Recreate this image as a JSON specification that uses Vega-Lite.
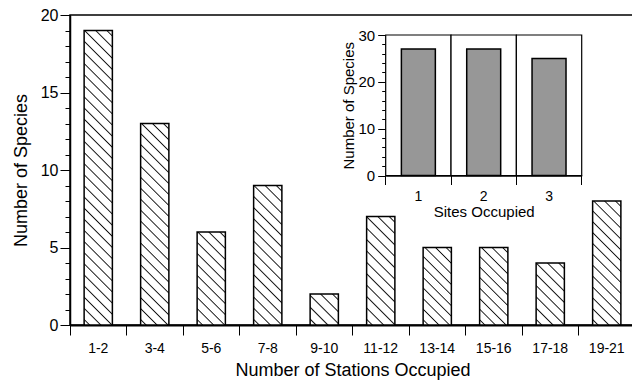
{
"$schema": "https://vega.github.io/schema/vega-lite/v6.json",
"width": 565,
"height": 310,
"autosize": "none",
"padding": {"left": 70, "top": 15, "right": 0, "bottom": 59},
"background": "white",
"config": {
  "font": "Liberation Sans",
  "view": {"stroke": "black", "strokeWidth": 1.5},
  "axis": {"grid": false, "domainColor": "black", "tickColor": "black", "labelColor": "black", "titleColor": "black", "titleFontWeight": "normal", "labelFont": "Liberation Sans", "titleFont": "Liberation Sans", "tickWidth": 1}
},
"datasets": {
  "inset": [
    {"site": "1", "count": 27},
    {"site": "2", "count": 27},
    {"site": "3", "count": 25}
  ]
},
"resolve": {"scale": {"x": "independent", "y": "independent"}},
"layer": [
  {
    "data": {"values": [
      {"stations": "1-2", "count": 19},
      {"stations": "3-4", "count": 13},
      {"stations": "5-6", "count": 6},
      {"stations": "7-8", "count": 9},
      {"stations": "9-10", "count": 2},
      {"stations": "11-12", "count": 7},
      {"stations": "13-14", "count": 5},
      {"stations": "15-16", "count": 5},
      {"stations": "17-18", "count": 4},
      {"stations": "19-21", "count": 8}
    ]},
    "mark": {"type": "bar", "width": {"band": 0.5}, "stroke": "black", "strokeWidth": 1.5},
    "encoding": {
      "x": {"field": "stations", "type": "nominal", "sort": null,
        "scale": {"paddingInner": 0, "paddingOuter": 0},
        "axis": {"title": "Number of Stations Occupied", "labelAngle": 0, "bandPosition": 1, "tickExtra": true, "tickSize": 10, "labelPadding": 6, "titlePadding": 6, "labelFontSize": 14, "titleFontSize": 18, "domainWidth": 2}},
      "y": {"field": "count", "type": "quantitative",
        "scale": {"domain": [0, 20], "nice": false},
        "axis": {"title": "Number of Species", "values": [0,1,2,3,4,5,6,7,8,9,10,11,12,13,14,15,16,17,18,19,20],
          "labelExpr": "datum.value % 5 === 0 ? datum.label : ''",
          "tickSize": {"condition": {"test": "datum.value % 5 === 0", "value": 10}, "value": 5},
          "labelPadding": 2, "labelFontSize": 16, "titleFontSize": 18, "titlePadding": 10, "domainWidth": 1.5}},
      "fill": {"condition": [
        {"test": "datum.count === 19", "value": {"gradient": "linear", "x1": 1, "y1": 0, "x2": 0.8958, "y2": 1.0859, "stops": [
          {"offset":0.0131,"color":"#fff"},{"offset":0.0172,"color":"#111"},{"offset":0.0214,"color":"#fff"},
          {"offset":0.0476,"color":"#fff"},{"offset":0.0517,"color":"#111"},{"offset":0.0559,"color":"#fff"},
          {"offset":0.0821,"color":"#fff"},{"offset":0.0862,"color":"#111"},{"offset":0.0903,"color":"#fff"},
          {"offset":0.1166,"color":"#fff"},{"offset":0.1207,"color":"#111"},{"offset":0.1248,"color":"#fff"},
          {"offset":0.1510,"color":"#fff"},{"offset":0.1552,"color":"#111"},{"offset":0.1593,"color":"#fff"},
          {"offset":0.1855,"color":"#fff"},{"offset":0.1897,"color":"#111"},{"offset":0.1938,"color":"#fff"},
          {"offset":0.2200,"color":"#fff"},{"offset":0.2241,"color":"#111"},{"offset":0.2283,"color":"#fff"},
          {"offset":0.2545,"color":"#fff"},{"offset":0.2586,"color":"#111"},{"offset":0.2628,"color":"#fff"},
          {"offset":0.2890,"color":"#fff"},{"offset":0.2931,"color":"#111"},{"offset":0.2972,"color":"#fff"},
          {"offset":0.3234,"color":"#fff"},{"offset":0.3276,"color":"#111"},{"offset":0.3317,"color":"#fff"},
          {"offset":0.3579,"color":"#fff"},{"offset":0.3621,"color":"#111"},{"offset":0.3662,"color":"#fff"},
          {"offset":0.3924,"color":"#fff"},{"offset":0.3966,"color":"#111"},{"offset":0.4007,"color":"#fff"},
          {"offset":0.4269,"color":"#fff"},{"offset":0.4310,"color":"#111"},{"offset":0.4352,"color":"#fff"},
          {"offset":0.4614,"color":"#fff"},{"offset":0.4655,"color":"#111"},{"offset":0.4697,"color":"#fff"},
          {"offset":0.4959,"color":"#fff"},{"offset":0.5000,"color":"#111"},{"offset":0.5041,"color":"#fff"},
          {"offset":0.5303,"color":"#fff"},{"offset":0.5345,"color":"#111"},{"offset":0.5386,"color":"#fff"},
          {"offset":0.5648,"color":"#fff"},{"offset":0.5690,"color":"#111"},{"offset":0.5731,"color":"#fff"},
          {"offset":0.5993,"color":"#fff"},{"offset":0.6034,"color":"#111"},{"offset":0.6076,"color":"#fff"},
          {"offset":0.6338,"color":"#fff"},{"offset":0.6379,"color":"#111"},{"offset":0.6421,"color":"#fff"},
          {"offset":0.6683,"color":"#fff"},{"offset":0.6724,"color":"#111"},{"offset":0.6766,"color":"#fff"},
          {"offset":0.7028,"color":"#fff"},{"offset":0.7069,"color":"#111"},{"offset":0.7110,"color":"#fff"},
          {"offset":0.7372,"color":"#fff"},{"offset":0.7414,"color":"#111"},{"offset":0.7455,"color":"#fff"},
          {"offset":0.7717,"color":"#fff"},{"offset":0.7759,"color":"#111"},{"offset":0.7800,"color":"#fff"},
          {"offset":0.8062,"color":"#fff"},{"offset":0.8103,"color":"#111"},{"offset":0.8145,"color":"#fff"},
          {"offset":0.8407,"color":"#fff"},{"offset":0.8448,"color":"#111"},{"offset":0.8490,"color":"#fff"},
          {"offset":0.8752,"color":"#fff"},{"offset":0.8793,"color":"#111"},{"offset":0.8834,"color":"#fff"},
          {"offset":0.9097,"color":"#fff"},{"offset":0.9138,"color":"#111"},{"offset":0.9179,"color":"#fff"},
          {"offset":0.9441,"color":"#fff"},{"offset":0.9483,"color":"#111"},{"offset":0.9524,"color":"#fff"},
          {"offset":0.9786,"color":"#fff"},{"offset":0.9828,"color":"#111"},{"offset":0.9869,"color":"#fff"}
        ]}},
        {"test": "datum.count === 13", "value": {"gradient": "linear", "x1": 1, "y1": 0, "x2": 0.8432, "y2": 1.1182, "stops": [
          {"offset":0.0181,"color":"#fff"},{"offset":0.0238,"color":"#111"},{"offset":0.0295,"color":"#fff"},
          {"offset":0.0657,"color":"#fff"},{"offset":0.0714,"color":"#111"},{"offset":0.0771,"color":"#fff"},
          {"offset":0.1133,"color":"#fff"},{"offset":0.1190,"color":"#111"},{"offset":0.1248,"color":"#fff"},
          {"offset":0.1610,"color":"#fff"},{"offset":0.1667,"color":"#111"},{"offset":0.1724,"color":"#fff"},
          {"offset":0.2086,"color":"#fff"},{"offset":0.2143,"color":"#111"},{"offset":0.2200,"color":"#fff"},
          {"offset":0.2562,"color":"#fff"},{"offset":0.2619,"color":"#111"},{"offset":0.2676,"color":"#fff"},
          {"offset":0.3038,"color":"#fff"},{"offset":0.3095,"color":"#111"},{"offset":0.3152,"color":"#fff"},
          {"offset":0.3514,"color":"#fff"},{"offset":0.3571,"color":"#111"},{"offset":0.3629,"color":"#fff"},
          {"offset":0.3990,"color":"#fff"},{"offset":0.4048,"color":"#111"},{"offset":0.4105,"color":"#fff"},
          {"offset":0.4467,"color":"#fff"},{"offset":0.4524,"color":"#111"},{"offset":0.4581,"color":"#fff"},
          {"offset":0.4943,"color":"#fff"},{"offset":0.5000,"color":"#111"},{"offset":0.5057,"color":"#fff"},
          {"offset":0.5419,"color":"#fff"},{"offset":0.5476,"color":"#111"},{"offset":0.5533,"color":"#fff"},
          {"offset":0.5895,"color":"#fff"},{"offset":0.5952,"color":"#111"},{"offset":0.6010,"color":"#fff"},
          {"offset":0.6371,"color":"#fff"},{"offset":0.6429,"color":"#111"},{"offset":0.6486,"color":"#fff"},
          {"offset":0.6848,"color":"#fff"},{"offset":0.6905,"color":"#111"},{"offset":0.6962,"color":"#fff"},
          {"offset":0.7324,"color":"#fff"},{"offset":0.7381,"color":"#111"},{"offset":0.7438,"color":"#fff"},
          {"offset":0.7800,"color":"#fff"},{"offset":0.7857,"color":"#111"},{"offset":0.7914,"color":"#fff"},
          {"offset":0.8276,"color":"#fff"},{"offset":0.8333,"color":"#111"},{"offset":0.8390,"color":"#fff"},
          {"offset":0.8752,"color":"#fff"},{"offset":0.8810,"color":"#111"},{"offset":0.8867,"color":"#fff"},
          {"offset":0.9229,"color":"#fff"},{"offset":0.9286,"color":"#111"},{"offset":0.9343,"color":"#fff"},
          {"offset":0.9705,"color":"#fff"},{"offset":0.9762,"color":"#111"},{"offset":0.9819,"color":"#fff"}
        ]}},
        {"test": "datum.count === 9", "value": {"gradient": "linear", "x1": 1, "y1": 0, "x2": 0.7661, "y2": 1.1551, "stops": [
          {"offset":0.0253,"color":"#fff"},{"offset":0.0333,"color":"#111"},{"offset":0.0413,"color":"#fff"},
          {"offset":0.0920,"color":"#fff"},{"offset":0.1000,"color":"#111"},{"offset":0.1080,"color":"#fff"},
          {"offset":0.1587,"color":"#fff"},{"offset":0.1667,"color":"#111"},{"offset":0.1747,"color":"#fff"},
          {"offset":0.2253,"color":"#fff"},{"offset":0.2333,"color":"#111"},{"offset":0.2413,"color":"#fff"},
          {"offset":0.2920,"color":"#fff"},{"offset":0.3000,"color":"#111"},{"offset":0.3080,"color":"#fff"},
          {"offset":0.3587,"color":"#fff"},{"offset":0.3667,"color":"#111"},{"offset":0.3747,"color":"#fff"},
          {"offset":0.4253,"color":"#fff"},{"offset":0.4333,"color":"#111"},{"offset":0.4413,"color":"#fff"},
          {"offset":0.4920,"color":"#fff"},{"offset":0.5000,"color":"#111"},{"offset":0.5080,"color":"#fff"},
          {"offset":0.5587,"color":"#fff"},{"offset":0.5667,"color":"#111"},{"offset":0.5747,"color":"#fff"},
          {"offset":0.6253,"color":"#fff"},{"offset":0.6333,"color":"#111"},{"offset":0.6413,"color":"#fff"},
          {"offset":0.6920,"color":"#fff"},{"offset":0.7000,"color":"#111"},{"offset":0.7080,"color":"#fff"},
          {"offset":0.7587,"color":"#fff"},{"offset":0.7667,"color":"#111"},{"offset":0.7747,"color":"#fff"},
          {"offset":0.8253,"color":"#fff"},{"offset":0.8333,"color":"#111"},{"offset":0.8413,"color":"#fff"},
          {"offset":0.8920,"color":"#fff"},{"offset":0.9000,"color":"#111"},{"offset":0.9080,"color":"#fff"},
          {"offset":0.9587,"color":"#fff"},{"offset":0.9667,"color":"#111"},{"offset":0.9747,"color":"#fff"}
        ]}},
        {"test": "datum.count === 8", "value": {"gradient": "linear", "x1": 1, "y1": 0, "x2": 0.7341, "y2": 1.1672, "stops": [
          {"offset":0.0271,"color":"#fff"},{"offset":0.0357,"color":"#111"},{"offset":0.0443,"color":"#fff"},
          {"offset":0.0986,"color":"#fff"},{"offset":0.1071,"color":"#111"},{"offset":0.1157,"color":"#fff"},
          {"offset":0.1700,"color":"#fff"},{"offset":0.1786,"color":"#111"},{"offset":0.1871,"color":"#fff"},
          {"offset":0.2414,"color":"#fff"},{"offset":0.2500,"color":"#111"},{"offset":0.2586,"color":"#fff"},
          {"offset":0.3129,"color":"#fff"},{"offset":0.3214,"color":"#111"},{"offset":0.3300,"color":"#fff"},
          {"offset":0.3843,"color":"#fff"},{"offset":0.3929,"color":"#111"},{"offset":0.4014,"color":"#fff"},
          {"offset":0.4557,"color":"#fff"},{"offset":0.4643,"color":"#111"},{"offset":0.4729,"color":"#fff"},
          {"offset":0.5271,"color":"#fff"},{"offset":0.5357,"color":"#111"},{"offset":0.5443,"color":"#fff"},
          {"offset":0.5986,"color":"#fff"},{"offset":0.6071,"color":"#111"},{"offset":0.6157,"color":"#fff"},
          {"offset":0.6700,"color":"#fff"},{"offset":0.6786,"color":"#111"},{"offset":0.6871,"color":"#fff"},
          {"offset":0.7414,"color":"#fff"},{"offset":0.7500,"color":"#111"},{"offset":0.7586,"color":"#fff"},
          {"offset":0.8129,"color":"#fff"},{"offset":0.8214,"color":"#111"},{"offset":0.8300,"color":"#fff"},
          {"offset":0.8843,"color":"#fff"},{"offset":0.8929,"color":"#111"},{"offset":0.9014,"color":"#fff"},
          {"offset":0.9557,"color":"#fff"},{"offset":0.9643,"color":"#111"},{"offset":0.9729,"color":"#fff"}
        ]}},
        {"test": "datum.count === 7", "value": {"gradient": "linear", "x1": 1, "y1": 0, "x2": 0.6927, "y2": 1.1804, "stops": [
          {"offset":0.0317,"color":"#fff"},{"offset":0.0417,"color":"#111"},{"offset":0.0517,"color":"#fff"},
          {"offset":0.1150,"color":"#fff"},{"offset":0.1250,"color":"#111"},{"offset":0.1350,"color":"#fff"},
          {"offset":0.1983,"color":"#fff"},{"offset":0.2083,"color":"#111"},{"offset":0.2183,"color":"#fff"},
          {"offset":0.2817,"color":"#fff"},{"offset":0.2917,"color":"#111"},{"offset":0.3017,"color":"#fff"},
          {"offset":0.3650,"color":"#fff"},{"offset":0.3750,"color":"#111"},{"offset":0.3850,"color":"#fff"},
          {"offset":0.4483,"color":"#fff"},{"offset":0.4583,"color":"#111"},{"offset":0.4683,"color":"#fff"},
          {"offset":0.5317,"color":"#fff"},{"offset":0.5417,"color":"#111"},{"offset":0.5517,"color":"#fff"},
          {"offset":0.6150,"color":"#fff"},{"offset":0.6250,"color":"#111"},{"offset":0.6350,"color":"#fff"},
          {"offset":0.6983,"color":"#fff"},{"offset":0.7083,"color":"#111"},{"offset":0.7183,"color":"#fff"},
          {"offset":0.7817,"color":"#fff"},{"offset":0.7917,"color":"#111"},{"offset":0.8017,"color":"#fff"},
          {"offset":0.8650,"color":"#fff"},{"offset":0.8750,"color":"#111"},{"offset":0.8850,"color":"#fff"},
          {"offset":0.9483,"color":"#fff"},{"offset":0.9583,"color":"#111"},{"offset":0.9683,"color":"#fff"}
        ]}},
        {"test": "datum.count === 6", "value": {"gradient": "linear", "x1": 1, "y1": 0, "x2": 0.6374, "y2": 1.1937, "stops": [
          {"offset":0.0345,"color":"#fff"},{"offset":0.0455,"color":"#111"},{"offset":0.0564,"color":"#fff"},
          {"offset":0.1255,"color":"#fff"},{"offset":0.1364,"color":"#111"},{"offset":0.1473,"color":"#fff"},
          {"offset":0.2164,"color":"#fff"},{"offset":0.2273,"color":"#111"},{"offset":0.2382,"color":"#fff"},
          {"offset":0.3073,"color":"#fff"},{"offset":0.3182,"color":"#111"},{"offset":0.3291,"color":"#fff"},
          {"offset":0.3982,"color":"#fff"},{"offset":0.4091,"color":"#111"},{"offset":0.4200,"color":"#fff"},
          {"offset":0.4891,"color":"#fff"},{"offset":0.5000,"color":"#111"},{"offset":0.5109,"color":"#fff"},
          {"offset":0.5800,"color":"#fff"},{"offset":0.5909,"color":"#111"},{"offset":0.6018,"color":"#fff"},
          {"offset":0.6709,"color":"#fff"},{"offset":0.6818,"color":"#111"},{"offset":0.6927,"color":"#fff"},
          {"offset":0.7618,"color":"#fff"},{"offset":0.7727,"color":"#111"},{"offset":0.7836,"color":"#fff"},
          {"offset":0.8527,"color":"#fff"},{"offset":0.8636,"color":"#111"},{"offset":0.8745,"color":"#fff"},
          {"offset":0.9436,"color":"#fff"},{"offset":0.9545,"color":"#111"},{"offset":0.9655,"color":"#fff"}
        ]}},
        {"test": "datum.count === 5", "value": {"gradient": "linear", "x1": 1, "y1": 0, "x2": 0.5609, "y2": 1.2045, "stops": [
          {"offset":0.038,"color":"#fff"},{"offset":0.05,"color":"#111"},{"offset":0.062,"color":"#fff"},
          {"offset":0.138,"color":"#fff"},{"offset":0.15,"color":"#111"},{"offset":0.162,"color":"#fff"},
          {"offset":0.238,"color":"#fff"},{"offset":0.25,"color":"#111"},{"offset":0.262,"color":"#fff"},
          {"offset":0.338,"color":"#fff"},{"offset":0.35,"color":"#111"},{"offset":0.362,"color":"#fff"},
          {"offset":0.438,"color":"#fff"},{"offset":0.45,"color":"#111"},{"offset":0.462,"color":"#fff"},
          {"offset":0.538,"color":"#fff"},{"offset":0.55,"color":"#111"},{"offset":0.562,"color":"#fff"},
          {"offset":0.638,"color":"#fff"},{"offset":0.65,"color":"#111"},{"offset":0.662,"color":"#fff"},
          {"offset":0.738,"color":"#fff"},{"offset":0.75,"color":"#111"},{"offset":0.762,"color":"#fff"},
          {"offset":0.838,"color":"#fff"},{"offset":0.85,"color":"#111"},{"offset":0.862,"color":"#fff"},
          {"offset":0.938,"color":"#fff"},{"offset":0.95,"color":"#111"},{"offset":0.962,"color":"#fff"}
        ]}},
        {"test": "datum.count === 4", "value": {"gradient": "linear", "x1": 1, "y1": 0, "x2": 0.4508, "y2": 1.2054, "stops": [
          {"offset":0.0475,"color":"#fff"},{"offset":0.0625,"color":"#111"},{"offset":0.0775,"color":"#fff"},
          {"offset":0.1725,"color":"#fff"},{"offset":0.1875,"color":"#111"},{"offset":0.2025,"color":"#fff"},
          {"offset":0.2975,"color":"#fff"},{"offset":0.3125,"color":"#111"},{"offset":0.3275,"color":"#fff"},
          {"offset":0.4225,"color":"#fff"},{"offset":0.4375,"color":"#111"},{"offset":0.4525,"color":"#fff"},
          {"offset":0.5475,"color":"#fff"},{"offset":0.5625,"color":"#111"},{"offset":0.5775,"color":"#fff"},
          {"offset":0.6725,"color":"#fff"},{"offset":0.6875,"color":"#111"},{"offset":0.7025,"color":"#fff"},
          {"offset":0.7975,"color":"#fff"},{"offset":0.8125,"color":"#111"},{"offset":0.8275,"color":"#fff"},
          {"offset":0.9225,"color":"#fff"},{"offset":0.9375,"color":"#111"},{"offset":0.9525,"color":"#fff"}
        ]}},
        {"test": "datum.count === 2", "value": {"gradient": "linear", "x1": 1, "y1": 0, "x2": 0.0485, "y2": 1.0442, "stops": [
          {"offset":0.076,"color":"#fff"},{"offset":0.1,"color":"#111"},{"offset":0.124,"color":"#fff"},
          {"offset":0.276,"color":"#fff"},{"offset":0.3,"color":"#111"},{"offset":0.324,"color":"#fff"},
          {"offset":0.476,"color":"#fff"},{"offset":0.5,"color":"#111"},{"offset":0.524,"color":"#fff"},
          {"offset":0.676,"color":"#fff"},{"offset":0.7,"color":"#111"},{"offset":0.724,"color":"#fff"},
          {"offset":0.876,"color":"#fff"},{"offset":0.9,"color":"#111"},{"offset":0.924,"color":"#fff"}
        ]}}
      ], "value": "white"}
    }
  },
  {
    "data": {"name": "inset"},
    "mark": {"type": "bar", "width": {"band": 1}, "fill": "white", "stroke": "black", "strokeWidth": 1.2},
    "encoding": {
      "x": {"field": "site", "type": "nominal", "scale": {"range": [315.7, 511.7], "paddingInner": 0, "paddingOuter": 0}, "axis": null},
      "y": {"datum": 30, "type": "quantitative", "scale": {"domain": [0, 30], "nice": false, "range": [160.5, 20]}, "axis": null}
    }
  },
  {
    "data": {"name": "inset"},
    "mark": {"type": "bar", "width": {"band": 0.52}, "fill": "#979797", "stroke": "black", "strokeWidth": 1.5},
    "encoding": {
      "x": {"field": "site", "type": "nominal", "scale": {"range": [315.7, 511.7], "paddingInner": 0, "paddingOuter": 0},
        "axis": {"orient": "bottom", "offset": -149.5, "title": "Sites Occupied", "labelAngle": 0, "bandPosition": 1, "tickExtra": true, "tickSize": 9, "labelPadding": 5, "titlePadding": 1, "labelFontSize": 14, "titleFontSize": 15, "domainWidth": 1.5}},
      "y": {"field": "count", "type": "quantitative", "scale": {"domain": [0, 30], "nice": false, "range": [160.5, 20]},
        "axis": {"orient": "left", "offset": -315.7, "title": "Number of Species", "values": [0,2,4,6,8,10,12,14,16,18,20,22,24,26,28,30],
          "labelExpr": "datum.value % 10 === 0 ? datum.label : ''",
          "tickSize": {"condition": {"test": "datum.value % 10 === 0", "value": 8}, "value": 4},
          "labelPadding": 3, "labelFontSize": 15, "titleFontSize": 15, "titlePadding": 2, "domainWidth": 1.2}}
    }
  }
]
}
